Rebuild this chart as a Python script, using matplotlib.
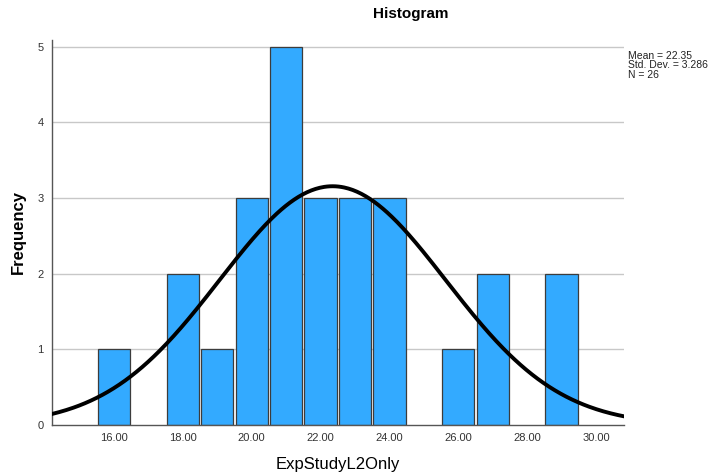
import numpy as np
import matplotlib
matplotlib.use("Agg")
import matplotlib.pyplot as plt

# bin centres and counts
bin_centres = [16, 18, 19, 20, 21, 22, 23, 24, 26, 27, 29]
counts      = [1, 2, 1, 3, 5, 3, 3, 3, 1, 2, 2]
x_ticks     = [16, 18, 20, 22, 24, 26, 28, 30]
y_ticks     = [0, 1, 2, 3, 4, 5]

MEAN, SD, N = 22.35, 3.286, 26
BAR_COLOR  = "#33AAFF"
EDGE_COLOR = "#3c3c3c"

plt.rcParams["font.family"] = ["Liberation Sans", "DejaVu Sans"]

fig = plt.figure(figsize=(7.09, 4.74), dpi=100, facecolor="white")
ax = fig.add_axes([0.0733, 0.1034, 0.8067, 0.8122])

ax.bar(bin_centres, counts, width=0.94, color=BAR_COLOR,
       edgecolor=EDGE_COLOR, linewidth=0.9, zorder=2)

# normal curve scaled to counts (bin width 1)
xs = np.linspace(14.2, 30.8, 400)
ys = N * 1.0 / (SD * np.sqrt(2 * np.pi)) * np.exp(-0.5 * ((xs - MEAN) / SD) ** 2)
ax.plot(xs, ys, color="black", linewidth=2.8, zorder=3)

ax.set_xlim(14.2, 30.81)
ax.set_ylim(0, 5.09)
ax.set_xticks(x_ticks)
ax.set_xticklabels([f"{v:.2f}" for v in x_ticks], fontsize=8, color="#333333")
ax.set_yticks(y_ticks)
ax.set_yticklabels([str(v) for v in y_ticks], fontsize=8, color="#333333")
ax.tick_params(length=0, pad=6)

for v in y_ticks[1:]:
    ax.axhline(v, color="#c8c8c8", linewidth=1.0, zorder=1)

for side in ("top", "right"):
    ax.spines[side].set_visible(False)
for side in ("left", "bottom"):
    ax.spines[side].set_color("#555555")
    ax.spines[side].set_linewidth(1.0)

ax.set_title("Histogram", fontsize=11, fontweight="bold", pad=16, x=0.628)
ax.set_ylabel("Frequency", fontsize=12, fontweight="bold", labelpad=8)
ax.set_xlabel("ExpStudyL2Only", fontsize=12, labelpad=10)

fig.text(0.886, 0.893, f"Mean = {MEAN:.2f}\nStd. Dev. = {SD:.3f}\nN = {N}",
         fontsize=7.5, va="top", ha="left", linespacing=0.95, color="#222222")

fig.savefig("out.png", dpi=100)
